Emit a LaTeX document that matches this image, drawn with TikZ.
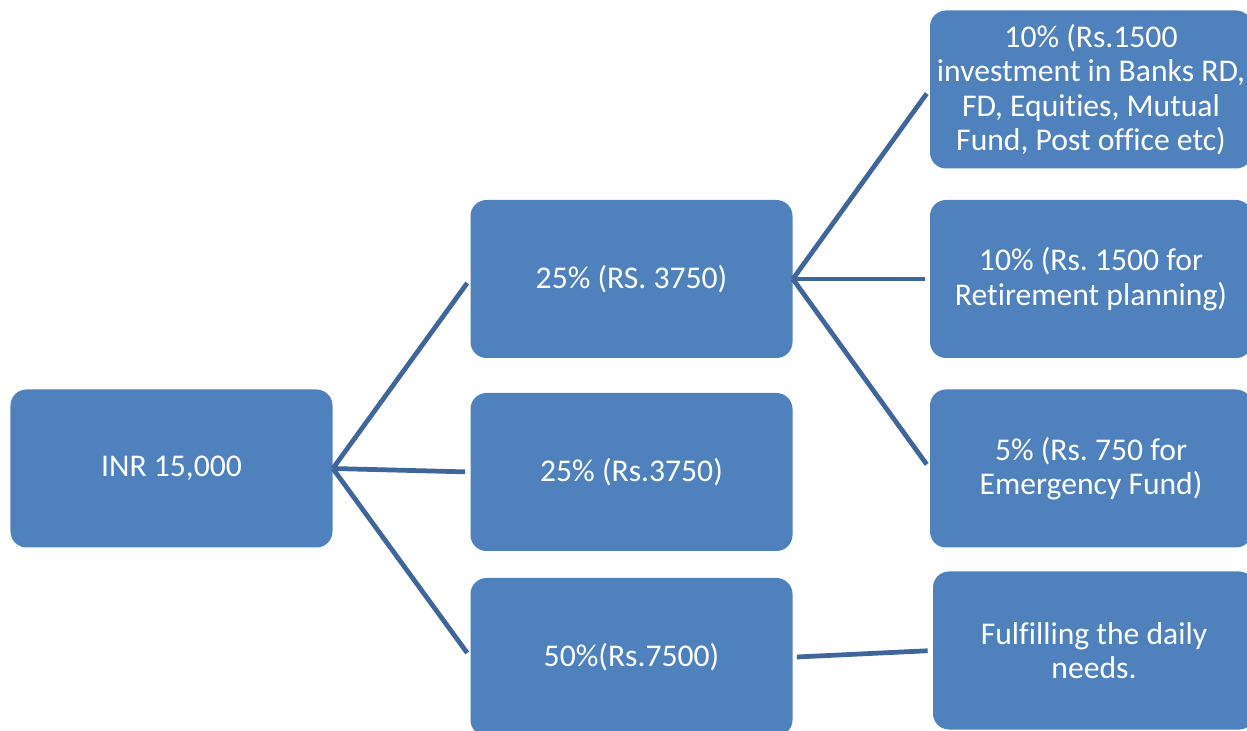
\documentclass[tikz,border=0pt]{standalone}
\usepackage{fontspec}
\setmainfont{Carlito}[Ligatures=NoCommon]
\definecolor{boxblue}{RGB}{79,129,189}
\definecolor{lineblue}{RGB}{63,102,154}
\frenchspacing
\begin{document}
\begin{tikzpicture}
	\tikzstyle{block}=[rectangle,rounded corners=0.32cm,fill=boxblue,text=white,align=center,minimum width=6.44cm,minimum height=3.16cm,font=\fontsize{18}{19.6}\selectfont]
	\tikzstyle{link}=[draw=lineblue, line width=2.7pt, shorten >=0.1cm]
	\useasboundingbox (0,0) rectangle (24.94,-14.62);
	\begin{scope}
		\clip (0,0) rectangle (24.94,-14.62);
		\node [block] (inr) at (3.43,-9.37) {INR 15,000};
		\node [block] (p1) at (12.63,-5.58) {25\% (RS. 3750)};
		\node [block] (p2) at (12.63,-9.44) {25\% (Rs.3750)};
		\node [block] (p3) at (12.63,-13.14) {50\%(Rs.7500)};
		\node [block] (invest) at (21.82,-1.79) {10\% (Rs.1500\\investment in Banks RD,\\FD, Equities, Mutual\\Fund, Post office etc)};
		\node [block] (retire) at (21.82,-5.58) {10\% (Rs. 1500 for\\Retirement planning)};
		\node [block] (emerg) at (21.82,-9.37) {5\% (Rs. 750 for\\Emergency Fund)};
		\node [block] (daily) at (21.88,-13.01) {Fulfilling the daily\\needs.};
		\path[link] (inr.east) -- (p1.west);
		\path[link] (inr.east) -- (p2.west);
		\path[link] (inr.east) -- (p3.west);
		\path[link] (p1.east) -- (invest.west);
		\path[link] (p1.east) -- (retire.west);
		\path[link] (p1.east) -- (emerg.west);
		\path[link] ([xshift=0.08cm]p3.east) -- (daily.west);
	\end{scope}
\end{tikzpicture}
\end{document}
